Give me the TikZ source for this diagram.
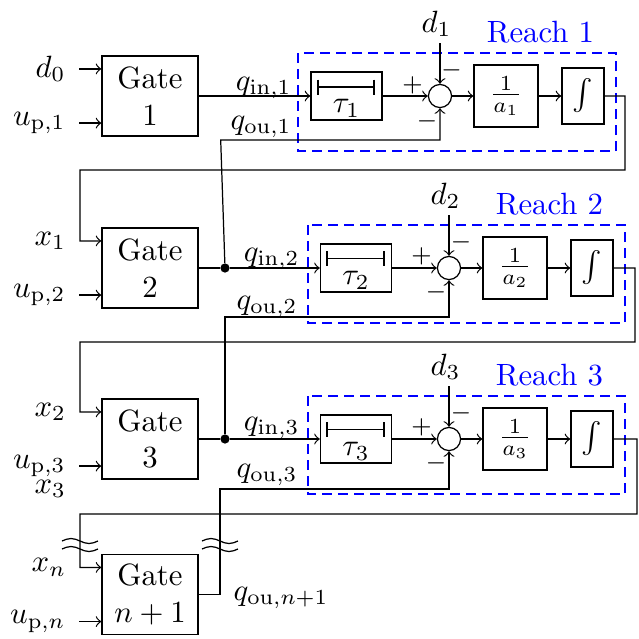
\documentclass[tikz,border=0pt]{standalone}
\usepackage{amsmath}
\usepackage{amssymb}

\tikzset{
  gate/.style={draw,minimum width=31.2pt,minimum height=26pt,align=center,inner sep=0pt},
  delay/.style={draw,minimum width=23.1pt,minimum height=15.6pt,inner sep=0pt,text height=13.3pt,text depth=2.3pt},
  sum/.style={draw,circle,minimum size=7.5pt,inner sep=0pt},
  gain/.style={draw,minimum width=20.8pt,minimum height=20.2pt,inner sep=0pt},
  integ/.style={draw,minimum width=13.7pt,minimum height=18.2pt,inner sep=0pt},
  reach/.style={draw=blue,line width=0.9pt,dash pattern=on 3.2pt off 2pt},
  reachlab/.style={blue,anchor=base,inner sep=0pt},
  sign/.style={font=\footnotesize,inner sep=0pt},
  junc/.style={fill,circle,minimum size=3pt,inner sep=0pt},
  lab/.style={anchor=base east,inner sep=0pt},
}

\begin{document}
\begin{tikzpicture}[x=0.325pt,y=-0.325pt]
\useasboundingbox (0,0) rectangle (639,639);
% gates
\draw (150,96) node[gate](gate1) {Gate\\1};
\draw (150,268) node[gate](gate2) {Gate\\2};
\draw (150,439) node[gate](gate3) {Gate\\3};
\draw (150,594.5) node[gate](gaten) {Gate\\$n+1$};
% reach 1
\draw (346.5,96) node[delay](tau1) {$\tau_1$};
\draw (318,79.5) -- (318,94.5) (318,87) -- (374,87) (374,79.5) -- (374,94.5);
\draw (440,96) node[sum](sum1) {};
\draw (506,96) node[gain](gain1) {$\frac{1}{a_1}$};
\draw (583,96) node[integ](int1) {$\int$};
\draw[reach] (298,53) rectangle (616,151);
\draw (540.5,42) node[reachlab](reach1) {Reach 1};
% reach 2
\draw (356,268) node[delay](tau2) {$\tau_2$};
\draw (327,251) -- (327,266) (327,258.5) -- (384,258.5) (384,251) -- (384,266);
\draw (449,268) node[sum](sum2) {};
\draw (515,268) node[gain](gain2) {$\frac{1}{a_2}$};
\draw (592,268) node[integ](int2) {$\int$};
\draw[reach] (308,225) rectangle (625,323);
\draw (549.5,214) node[reachlab](reach2) {Reach 2};
% reach 3
\draw (356,439) node[delay](tau3) {$\tau_3$};
\draw (327,422) -- (327,437) (327,429.5) -- (384,429.5) (384,422) -- (384,437);
\draw (449,439) node[sum](sum3) {};
\draw (515,439) node[gain](gain3) {$\frac{1}{a_3}$};
\draw (592,439) node[integ](int3) {$\int$};
\draw[reach] (308,396) rectangle (625,494);
\draw (549.5,385) node[reachlab](reach3) {Reach 3};
% junction dots
\draw (225,268) node[junc](dot2) {};
\draw (225,439) node[junc](dot3) {};
% disturbances
\coordinate (din1) at (440,43);
\coordinate (din2) at (449,215);
\coordinate (din3) at (449,386);
\draw[->] (din1) -- (sum1.north);
\draw[->] (din2) -- (sum2.north);
\draw[->] (din3) -- (sum3.north);
\draw (452,32) node[lab](d1) {$d_1$};
\draw (461,204) node[lab](d2) {$d_2$};
\draw (461,375) node[lab](d3) {$d_3$};
% signs
\draw (412.5,85) node[sign] {$+$};
\draw (451.5,70) node[sign] {$-$};
\draw (427,121) node[sign] {$-$};
\draw (421.5,256) node[sign] {$+$};
\draw (461,242) node[sign] {$-$};
\draw (436,292) node[sign] {$-$};
\draw (421.5,427) node[sign] {$+$};
\draw (461,413) node[sign] {$-$};
\draw (436,463) node[sign] {$-$};
% gate inputs
\draw[<-] ([yshift=8.8pt]gate1.west) -- ++(-22,0) node[left=1pt](d0) {$d_0$};
\draw[<-] ([yshift=-8.8pt]gate1.west) -- ++(-22,0) node[left=1pt](up1) {$u_{\mathrm{p},1}$};
\draw[<-] ([yshift=-8.8pt]gate2.west) -- ++(-22,0) node[left=1pt](up2) {$u_{\mathrm{p},2}$};
\draw[<-] ([yshift=-8.8pt]gate3.west) -- ++(-22,0) node[left=1pt](up3) {$u_{\mathrm{p},3}$};
\draw[<-] ([yshift=-8.8pt]gaten.west) -- ++(-22,0) node[left=1pt](upn) {$u_{\mathrm{p},n}$};
\draw (80,489) node[left=1pt](x3) {$x_3$};
% forward paths
\draw[->] (gate1.east) -- (tau1.west);
\draw[->] (gate2.east) -- (dot2) -- (tau2.west);
\draw[->] (gate3.east) -- (dot3) -- (tau3.west);
\draw[->] (tau1.east) -- (sum1.west);
\draw[->] (tau2.east) -- (sum2.west);
\draw[->] (tau3.east) -- (sum3.west);
\draw[->] (sum1.east) -- (gain1.west);
\draw[->] (sum2.east) -- (gain2.west);
\draw[->] (sum3.east) -- (gain3.west);
\draw[->] (gain1.east) -- (int1.west);
\draw[->] (gain2.east) -- (int2.west);
\draw[->] (gain3.east) -- (int3.west);
% outflows back to the sums
\draw[<-] (sum1.south) |- (220.7,140) -- (dot2);
\draw[<-] (sum2.south) |- (225,317) -- (dot3);
\draw[<-] (sum3.south) |- (220,489) |- (gaten.east);
% states to next gate
\draw[->] (int1.east) -| (625,170) -| (80,240.9) node[left=1pt](x1) {$x_1$} -- ([yshift=8.8pt]gate2.west);
\draw[->] (int2.east) -| (635,342) -| (80,411.9) node[left=1pt](x2) {$x_2$} -- ([yshift=8.8pt]gate3.west);
\draw[->] (int3.east) -| (637,514) -| (80,567.4) node[left=1pt](xn) {$x_n$} -- ([yshift=8.8pt]gaten.west);
% labels
\draw (292,90) node[lab](qin1) {$q_{\mathrm{in},1}$};
\draw (292,129) node[lab](qou1) {$q_{\mathrm{ou},1}$};
\draw (300,261) node[lab](qin2) {$q_{\mathrm{in},2}$};
\draw (298,309) node[lab](qou2) {$q_{\mathrm{ou},2}$};
\draw (300,430) node[lab](qin3) {$q_{\mathrm{in},3}$};
\draw (298,477) node[lab](qou3) {$q_{\mathrm{ou},3}$};
\draw (233,600) node[anchor=base west,inner sep=0pt](qoun) {$q_{\mathrm{ou},n+1}$};
% breaks
\foreach \bx in {80,220}
  \foreach \by in {541,549}
    \draw (\bx-18,\by) sin (\bx-9,\by-2.5) cos (\bx,\by) sin (\bx+9,\by+2.5) cos (\bx+18,\by);
\end{tikzpicture}
\end{document}
